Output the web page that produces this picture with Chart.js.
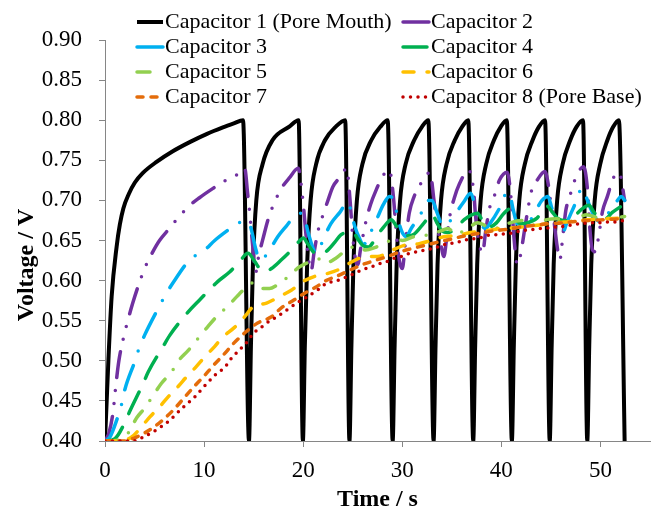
<!DOCTYPE html>
<html>
<head>
<meta charset="utf-8">
<script src="https://cdn.jsdelivr.net/npm/chart.js@4.4.1/dist/chart.umd.min.js"></script>
<style>
  html, body { margin: 0; padding: 0; background: #fff; }
  #wrap { width: 661px; height: 512px; }
</style>
</head>
<body>
<div id="wrap"><canvas id="voltChart" width="661" height="512"></canvas></div>
<script>
// series labels and axis ticks
const seriesNames = ['Capacitor 1 (Pore Mouth)', 'Capacitor 2', 'Capacitor 3', 'Capacitor 4',
                     'Capacitor 5', 'Capacitor 6', 'Capacitor 7', 'Capacitor 8 (Pore Base)'];
const xTicks = [0, 10, 20, 30, 40, 50];
const yTicks = [0.40, 0.45, 0.50, 0.55, 0.60, 0.65, 0.70, 0.75, 0.80, 0.85, 0.90];

// [time (s), voltage (V)]
const cap1 = [[0,0.40],[0.17,0.45],[0.34,0.50],[0.67,0.58],[1.17,0.642],[1.5,0.67],[1.85,0.69],[2.4,0.708],[3.0,0.722],[3.8,0.734],[5.2,0.748],[6.8,0.761],[8.6,0.773],[10.3,0.783],[11.9,0.791],[13.0,0.796],[13.93,0.80],[14.53,0.40],
  [14.73,0.52],[14.93,0.62],[15.27,0.70],[15.9,0.745],[16.9,0.775],[18.6,0.792],[19.54,0.80],[19.97,0.40],
  [20.17,0.52],[20.4,0.62],[20.75,0.70],[21.3,0.745],[22.2,0.775],[23.3,0.792],[24.24,0.80],[24.67,0.40],
  [24.87,0.52],[25.07,0.62],[25.42,0.70],[25.97,0.745],[26.87,0.775],[27.8,0.792],[28.53,0.80],[29.03,0.40],
  [29.23,0.52],[29.43,0.62],[29.78,0.70],[30.33,0.745],[31.2,0.775],[32.0,0.792],[32.63,0.80],[33.16,0.40],
  [33.36,0.52],[33.56,0.62],[33.91,0.70],[34.46,0.745],[35.3,0.775],[36.05,0.792],[36.66,0.80],[37.16,0.40],
  [37.36,0.52],[37.56,0.62],[37.91,0.70],[38.46,0.745],[39.25,0.775],[39.95,0.792],[40.55,0.80],[41.06,0.40],
  [41.26,0.52],[41.46,0.62],[41.81,0.70],[42.36,0.745],[43.15,0.775],[43.8,0.792],[44.41,0.80],[44.88,0.40],
  [45.08,0.52],[45.28,0.62],[45.63,0.70],[46.18,0.745],[46.95,0.775],[47.6,0.792],[48.24,0.80],[48.67,0.40],
  [48.87,0.52],[49.07,0.62],[49.42,0.70],[49.97,0.745],[50.7,0.775],[51.3,0.792],[51.86,0.80],[52.44,0.40]];

const cap2 = [[0,0.40],[0.4,0.41],[0.8,0.435],[1.1,0.47],[1.4,0.50],[1.85,0.528],[2.3,0.55],[2.8,0.572],[3.4,0.595],[4.0,0.615],[4.7,0.633],[5.5,0.65],[6.5,0.665],[7.5,0.68],[8.4,0.692],[9.5,0.703],[10.9,0.715],[12.2,0.725],[13.3,0.732],[14.1,0.740],
  [14.4,0.708],[14.6,0.685],[14.9,0.644],[15.2,0.610],[15.5,0.630],[16.0,0.655],[16.5,0.678],[17.2,0.700],[17.8,0.715],[18.6,0.728],[19.5,0.740],
  [19.97,0.700],[20.3,0.655],[20.6,0.622],[20.8,0.612],[21.1,0.635],[21.5,0.662],[22.0,0.682],[22.5,0.700],[23.0,0.717],[23.8,0.730],[24.4,0.740],
  [24.7,0.705],[25.0,0.655],[25.3,0.625],[25.5,0.620],[25.8,0.640],[26.3,0.672],[26.8,0.695],[27.4,0.714],[28.0,0.730],[28.7,0.738],
  [29.1,0.705],[29.4,0.660],[29.7,0.625],[30.0,0.615],[30.3,0.645],[30.7,0.684],[31.2,0.705],[31.7,0.717],[32.2,0.728],[32.8,0.735],
  [33.2,0.700],[33.5,0.670],[33.9,0.645],[34.2,0.630],[34.5,0.655],[34.85,0.684],[35.25,0.703],[35.75,0.720],[36.7,0.738],
  [37.2,0.712],[37.4,0.680],[37.7,0.650],[38.1,0.634],[38.4,0.660],[38.8,0.690],[39.3,0.706],[39.8,0.725],[40.6,0.735],
  [41.0,0.700],[41.3,0.650],[41.6,0.620],[41.9,0.630],[42.3,0.660],[42.6,0.683],[43.0,0.710],[43.6,0.725],[44.4,0.736],
  [44.8,0.715],[45.0,0.695],[45.3,0.675],[45.6,0.645],[45.9,0.626],[46.2,0.655],[46.5,0.687],[46.9,0.705],[47.4,0.725],[48.3,0.742],
  [48.7,0.712],[48.9,0.670],[49.2,0.638],[49.5,0.636],[49.85,0.658],[50.2,0.686],[50.7,0.705],[51.3,0.728],[51.9,0.735],[52.44,0.700]];

const cap3 = [[0,0.40],[0.5,0.405],[1.18,0.426],[1.68,0.446],[2.0,0.464],[3.0,0.499],[3.45,0.516],[4.0,0.532],[5.4,0.566],[6.1,0.582],[6.85,0.597],[8.56,0.626],[9.97,0.637],[11.07,0.65],[12.3,0.662],[13.42,0.672],[14.5,0.673],
  [14.8,0.662],[15.2,0.64],[15.6,0.626],[16.0,0.628],[16.6,0.638],[17.45,0.655],[18.3,0.668],[19.1,0.68],[19.8,0.684],[20.1,0.68],
  [20.5,0.66],[21.0,0.64],[21.3,0.634],[21.7,0.642],[22.15,0.655],[22.8,0.671],[23.7,0.685],[24.5,0.698],[24.8,0.688],
  [25.2,0.668],[25.7,0.652],[26.1,0.645],[26.6,0.655],[27.4,0.676],[28.1,0.695],[28.7,0.705],[29.2,0.698],
  [29.6,0.675],[30.0,0.66],[30.4,0.655],[30.9,0.665],[31.9,0.684],[32.56,0.70],[33.0,0.70],
  [33.5,0.685],[33.9,0.672],[34.3,0.668],[34.8,0.674],[35.4,0.684],[36.2,0.698],[36.9,0.709],[37.2,0.70],
  [37.5,0.685],[37.9,0.672],[38.4,0.665],[38.9,0.672],[39.8,0.69],[40.6,0.71],[40.9,0.705],
  [41.2,0.688],[41.6,0.671],[42.2,0.668],[42.8,0.673],[43.5,0.688],[44.1,0.70],[44.7,0.705],[45.1,0.69],
  [45.6,0.675],[46.2,0.66],[46.6,0.672],[47.1,0.686],[47.6,0.70],[48.1,0.715],[48.6,0.703],
  [49.0,0.69],[49.5,0.678],[50.0,0.673],[50.4,0.676],[51.0,0.688],[51.6,0.698],[52.1,0.705],[52.44,0.70]];

const cap4 = [[0,0.40],[1.0,0.403],[2.0,0.423],[2.5,0.437],[3.86,0.472],[4.36,0.486],[5.87,0.518],[6.55,0.532],[8.4,0.561],[9.4,0.574],[11.4,0.599],[12.6,0.611],[13.6,0.624],[14.43,0.634],
  [15.1,0.624],[15.6,0.615],[16.1,0.611],[16.8,0.615],[17.8,0.626],[18.8,0.638],[19.6,0.649],[20.0,0.653],
  [20.5,0.645],[21.0,0.636],[21.6,0.632],[22.4,0.637],[23.2,0.648],[23.8,0.657],[24.5,0.66],[25.0,0.661],
  [25.5,0.652],[26.0,0.644],[26.6,0.642],[27.4,0.655],[28.2,0.668],[28.9,0.676],
  [29.4,0.668],[30.0,0.659],[30.6,0.656],[31.2,0.658],[32.2,0.672],[33.0,0.683],
  [33.5,0.672],[34.0,0.662],[34.6,0.66],[35.4,0.665],[36.25,0.676],[37.0,0.682],[37.6,0.684],
  [38.2,0.672],[38.8,0.667],[39.5,0.672],[40.2,0.683],[40.8,0.689],
  [41.4,0.678],[41.96,0.671],[42.6,0.672],[43.6,0.678],[44.6,0.693],
  [45.1,0.686],[45.65,0.678],[46.3,0.675],[47.0,0.676],[48.0,0.688],[48.85,0.694],
  [49.3,0.686],[49.85,0.678],[50.35,0.676],[51.2,0.685],[52.0,0.692]];

const cap5 = [[0,0.40],[1.3,0.401],[2.35,0.41],[3.2,0.429],[4.0,0.441],[4.87,0.457],[5.7,0.472],[6.7,0.486],[7.48,0.501],[8.4,0.513],[9.4,0.528],[10.34,0.542],[11.25,0.555],[12.4,0.568],[13.3,0.58],[14.3,0.592],[14.9,0.597],
  [15.8,0.590],[16.6,0.590],[17.3,0.594],[18.5,0.605],[19.6,0.617],[20.8,0.624],[21.6,0.627],[22.3,0.622],[23.3,0.628],[24.7,0.641],[25.5,0.642],[26.3,0.638],[27.2,0.641],[28.6,0.649],[29.5,0.652],[30.0,0.650],
  [31.2,0.655],[32.7,0.657],[33.9,0.662],[34.6,0.665],[35.4,0.658],[36.6,0.665],[37.6,0.672],[38.5,0.668],[39.3,0.665],[40.6,0.671],[42.0,0.675],[43.0,0.669],[44.6,0.676],[45.6,0.677],[47.0,0.674],[48.6,0.682],[50.0,0.678],[51.0,0.678],[52.44,0.68]];

const cap6 = [[0,0.40],[1.5,0.40],[2.69,0.405],[3.7,0.418],[4.53,0.43],[5.54,0.443],[6.37,0.455],[7.38,0.468],[8.23,0.48],[9.23,0.493],[10.07,0.505],[11.08,0.518],[11.75,0.528],[13.1,0.542],[14.1,0.555],[14.9,0.567],
  [15.6,0.57],[16.3,0.572],[17.6,0.58],[18.8,0.588],[20.0,0.599],[21.1,0.605],[22.5,0.609],[23.8,0.615],[25.0,0.624],[26.4,0.63],[27.5,0.630],[29.0,0.638],[30.2,0.644],[31.7,0.646],[32.9,0.65],
  [34.3,0.655],[35.5,0.656],[36.9,0.660],[38.4,0.662],[39.9,0.665],[41.4,0.666],[42.3,0.667],[43.6,0.669],[45.1,0.672],[46.3,0.673],[47.8,0.675],[49.1,0.676],[50.5,0.677],[52.44,0.678]];

const cap7 = [[0,0.40],[2.0,0.40],[3.0,0.404],[4.0,0.41],[5.0,0.418],[6.0,0.428],[7.0,0.44],[8.0,0.454],[9.0,0.468],[10.0,0.481],[11.0,0.495],[12.0,0.508],[13.0,0.522],[14.4,0.538],
  [15.4,0.547],[16.8,0.555],[17.8,0.566],[19.1,0.576],[20.1,0.584],[21.3,0.592],[22.3,0.60],[23.5,0.606],[24.7,0.613],[26.0,0.62],[27.2,0.625],[28.5,0.63],[29.8,0.636],[31.0,0.64],
  [32.3,0.644],[33.6,0.648],[35.0,0.652],[36.4,0.656],[37.8,0.659],[39.2,0.662],[40.6,0.664],[42.0,0.667],[43.4,0.669],[44.8,0.671],[46.2,0.672],[47.6,0.674],[49.0,0.675],[50.4,0.676],[51.8,0.677],[52.44,0.678]];

const cap8 = [[0,0.40],[2.85,0.40],[3.86,0.405],[5.2,0.414],[6.55,0.426],[7.7,0.44],[9.06,0.455],[10.0,0.468],[11.08,0.482],[12.1,0.492],[12.75,0.503],[13.93,0.518],[14.5,0.526],[14.93,0.534],
  [15.6,0.54],[16.3,0.547],[17.6,0.557],[18.3,0.563],[19.6,0.574],[20.3,0.579],[21.65,0.59],[22.4,0.597],[23.2,0.599],[24.67,0.606],[25.35,0.61],[26.1,0.614],[26.85,0.617],[27.7,0.621],
  [28.5,0.624],[29.2,0.628],[29.9,0.63],[30.7,0.634],[31.55,0.636],[32.2,0.638],[33.06,0.64],[34.6,0.646],[35.4,0.647],[36.15,0.65],[36.9,0.652],[37.8,0.653],[38.4,0.656],[39.3,0.657],
  [40.1,0.658],[40.96,0.659],[41.6,0.661],[42.5,0.663],[43.3,0.664],[44.05,0.665],[44.9,0.666],[45.6,0.667],[46.5,0.668],[47.3,0.67],[48.1,0.671],[48.9,0.672],[49.7,0.672],[50.5,0.673],[51.3,0.673],[52.44,0.675]];

const allSeries = [cap1, cap2, cap3, cap4, cap5, cap6, cap7, cap8];

// looks
const lineColors = ['#000000', '#7030A0', '#00B0F0', '#00B050', '#92D050', '#FFC000', '#E46C0A', '#C00000'];
const lineDashes = [[], [26, 13, 0, 13, 0, 13], [26, 15, 0, 15], [24, 15], [13, 13, 0, 13], [11, 13], [6, 8], [0, 7.5]];
const serif = 'Liberation Serif';

// two column key in the top corner, plus the rotated y title
const cornerLegend = {
  id: 'cornerLegend',
  afterDraw(chart) {
    const ctx = chart.ctx;
    chart.data.datasets.forEach((ds, i) => {
      const x = (i % 2) ? 403 : 137;
      const y = 22 + Math.floor(i / 2) * 25;
      ctx.save();
      ctx.strokeStyle = ds.borderColor;
      ctx.lineWidth = ds.borderWidth;
      ctx.lineCap = ds.borderCapStyle;
      ctx.setLineDash(ds.borderDash);
      ctx.beginPath();
      ctx.moveTo(x, y);
      ctx.lineTo(x + 26, y);
      ctx.stroke();
      ctx.setLineDash([]);
      ctx.fillStyle = '#000';
      ctx.font = '22px "' + serif + '"';
      ctx.textBaseline = 'middle';
      ctx.fillText(ds.label, x + 28, y);
      ctx.restore();
    });
    // y axis title sits a bit below the middle of the axis
    ctx.save();
    ctx.translate(27, 265);
    ctx.rotate(-Math.PI / 2);
    ctx.font = 'bold 24px "' + serif + '"';
    ctx.fillStyle = '#000';
    ctx.textAlign = 'center';
    ctx.textBaseline = 'middle';
    ctx.fillText('Voltage / V', 0, 0);
    ctx.restore();
  }
};

let ctx = document.getElementById('voltChart').getContext('2d');
let voltChart = new Chart(ctx, {
    type: 'line',
    data: {
        datasets: allSeries.map((pts, i) => ({
            label: seriesNames[i],
            data: pts.map(p => ({ x: p[0], y: p[1] })),
            borderColor: lineColors[i],
            backgroundColor: lineColors[i],
            borderWidth: i === 0 ? 4 : 3.5,
            borderDash: lineDashes[i],
            borderCapStyle: i === 0 ? 'butt' : 'round',
            borderJoinStyle: 'round',
            cubicInterpolationMode: 'monotone',
            pointRadius: 0,
            fill: false,
            order: 7 - i // later series sit on top
        }))
    },
    options: {
        responsive: false,
        animation: false,
        devicePixelRatio: 1,
        layout: { padding: { top: 40, right: 11, left: 0, bottom: 0 } },
        plugins: { legend: { display: false }, tooltip: { enabled: false } },
        scales: {
            x: {
                type: 'linear',
                min: 0,
                max: 55,
                afterBuildTicks: s => { s.ticks = xTicks.map(v => ({ value: v })); },
                afterFit: s => { s.height = 71; },
                grid: { drawOnChartArea: false, tickLength: 6, color: '#868686' },
                border: { color: '#868686', width: 1 },
                ticks: {
                    color: '#000',
                    padding: 10,
                    maxRotation: 0,
                    font: { family: serif, size: 23 },
                    callback: v => String(v)
                },
                title: {
                    display: true,
                    text: 'Time / s',
                    color: '#000',
                    font: { family: serif, size: 24, weight: 'bold', lineHeight: 1 },
                    padding: { top: 0, bottom: 0 }
                }
            },
            y: {
                type: 'linear',
                min: 0.40,
                max: 0.90,
                afterBuildTicks: s => { s.ticks = yTicks.map(v => ({ value: v })); },
                afterFit: s => { s.width = 105; },
                grid: { drawOnChartArea: false, tickLength: 6, color: '#868686' },
                border: { color: '#868686', width: 1 },
                ticks: {
                    color: '#000',
                    padding: 17,
                    font: { family: serif, size: 23 },
                    callback: v => v.toFixed(2)
                },
                title: { display: false }
            }
        }
    },
    plugins: [cornerLegend]
});
</script>
</body>
</html>
